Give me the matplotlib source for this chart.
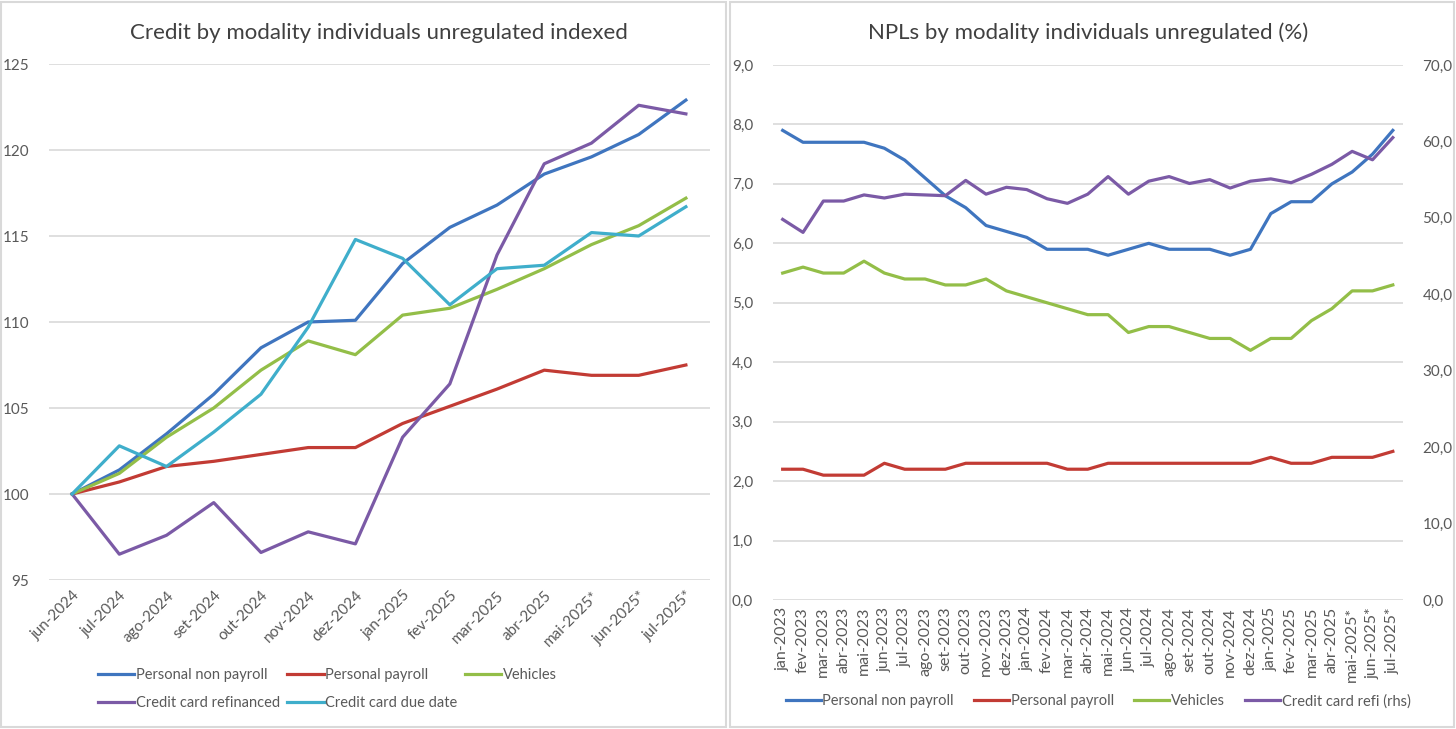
import matplotlib.pyplot as plt
from matplotlib.patches import Rectangle

plt.rcParams['font.family'] = ['Lato', 'DejaVu Sans']

# left chart: credit indexed
months_left = ['jun-2024', 'jul-2024', 'ago-2024', 'set-2024', 'out-2024', 'nov-2024', 'dez-2024',
               'jan-2025', 'fev-2025', 'mar-2025', 'abr-2025', 'mai-2025*', 'jun-2025*', 'jul-2025*']
personal_non_payroll = [100, 101.4, 103.5, 105.8, 108.5, 110.0, 110.1, 113.4, 115.5, 116.8, 118.6, 119.6, 120.9, 122.9]
personal_payroll = [100, 100.7, 101.6, 101.9, 102.3, 102.7, 102.7, 104.1, 105.1, 106.1, 107.2, 106.9, 106.9, 107.5]
vehicles = [100, 101.2, 103.3, 105.0, 107.2, 108.9, 108.1, 110.4, 110.8, 111.9, 113.1, 114.5, 115.6, 117.2]
cc_refinanced = [100, 96.5, 97.6, 99.5, 96.6, 97.8, 97.1, 103.3, 106.4, 113.9, 119.2, 120.4, 122.6, 122.1]
cc_due_date = [100, 102.8, 101.6, 103.6, 105.8, 109.7, 114.8, 113.7, 111.0, 113.1, 113.3, 115.2, 115.0, 116.7]

# right chart: NPLs
months_right = ['jan-2023', 'fev-2023', 'mar-2023', 'abr-2023', 'mai-2023', 'jun-2023', 'jul-2023', 'ago-2023',
                'set-2023', 'out-2023', 'nov-2023', 'dez-2023', 'jan-2024', 'fev-2024', 'mar-2024', 'abr-2024',
                'mai-2024', 'jun-2024', 'jul-2024', 'ago-2024', 'set-2024', 'out-2024', 'nov-2024', 'dez-2024',
                'jan-2025', 'fev-2025', 'mar-2025', 'abr-2025', 'mai-2025*', 'jun-2025*', 'jul-2025*']
npl_non_payroll = [7.9, 7.7, 7.7, 7.7, 7.7, 7.6, 7.4, 7.1, 6.8, 6.6, 6.3, 6.2, 6.1, 5.9, 5.9, 5.9,
                   5.8, 5.9, 6.0, 5.9, 5.9, 5.9, 5.8, 5.9, 6.5, 6.7, 6.7, 7.0, 7.2, 7.5, 7.9]
npl_payroll = [2.2, 2.2, 2.1, 2.1, 2.1, 2.3, 2.2, 2.2, 2.2, 2.3, 2.3, 2.3, 2.3, 2.3, 2.2, 2.2,
               2.3, 2.3, 2.3, 2.3, 2.3, 2.3, 2.3, 2.3, 2.4, 2.3, 2.3, 2.4, 2.4, 2.4, 2.5]
npl_vehicles = [5.5, 5.6, 5.5, 5.5, 5.7, 5.5, 5.4, 5.4, 5.3, 5.3, 5.4, 5.2, 5.1, 5.0, 4.9, 4.8,
                4.8, 4.5, 4.6, 4.6, 4.5, 4.4, 4.4, 4.2, 4.4, 4.4, 4.7, 4.9, 5.2, 5.2, 5.3]
npl_cc_refi = [49.8, 48.1, 52.2, 52.2, 53.0, 52.6, 53.1, 53.0, 52.9, 54.9, 53.1, 54.0, 53.7, 52.5, 51.9, 53.1,
               55.4, 53.1, 54.8, 55.4, 54.5, 55.0, 53.9, 54.8, 55.1, 54.6, 55.7, 57.0, 58.7, 57.6, 60.5]

BLUE = '#3F75BF'
RED = '#C23B34'
GREEN = '#93BE48'
PURPLE = '#7B5AA6'
CYAN = '#3FAECB'
GRID = '#D9D9D9'
TXT = '#595959'
LW = 2.3

W, H = 1456, 729
fig = plt.figure(figsize=(W / 100, H / 100), dpi=100)


def box(x0, y0, x1, y1):
    # pixel coords (top-left origin) -> figure fraction
    return [x0 / W, 1 - y1 / H, (x1 - x0) / W, (y1 - y0) / H]


# panel borders
for x0, x1 in [(1, 726), (730, 1454)]:
    fig.patches.append(Rectangle((x0 / W, 2 / H), (x1 - x0) / W, (H - 4) / H, transform=fig.transFigure,
                                 fill=False, edgecolor=GRID, linewidth=1.5))


def style(ax):
    for s in ax.spines.values():
        s.set_visible(False)
    ax.yaxis.grid(True, color=GRID, linewidth=1.2)
    ax.set_axisbelow(True)
    ax.tick_params(length=0, colors=TXT, labelsize=11)


# ---- left chart
ax1 = fig.add_axes(box(48.5, 64, 709.5, 580))
style(ax1)
xl = range(len(months_left))
ax1.plot(xl, personal_non_payroll, color=BLUE, lw=LW, label='Personal non payroll')
ax1.plot(xl, personal_payroll, color=RED, lw=LW, label='Personal payroll')
ax1.plot(xl, vehicles, color=GREEN, lw=LW, label='Vehicles')
ax1.plot(xl, cc_refinanced, color=PURPLE, lw=LW, label='Credit card refinanced')
ax1.plot(xl, cc_due_date, color=CYAN, lw=LW, label='Credit card due date')
ax1.set_xlim(-0.5, len(months_left) - 0.5)
ax1.set_ylim(95, 125)
ax1.set_yticks(range(95, 126, 5))
ax1.set_xticks(list(xl))
ax1.set_xticklabels(months_left, rotation=45, ha='right', rotation_mode='anchor')
ax1.tick_params(axis='y', pad=14)
ax1.tick_params(axis='x', pad=6)
ax1.set_title('Credit by modality individuals unregulated indexed', fontsize=16, color='#404040', pad=18)
h, l = ax1.get_legend_handles_labels()
order = [0, 3, 1, 4, 2]
ax1.legend([h[i] for i in order], [l[i] for i in order], ncol=3, loc='upper left',
           bbox_to_anchor=((98 - 48.5) / 661, -(668 - 580) / 516), borderaxespad=0, borderpad=0,
           frameon=False, fontsize=10.5, labelcolor=TXT, handlelength=2.5, handletextpad=0.1,
           columnspacing=0.5, labelspacing=0.95)

# ---- right chart
ax2 = fig.add_axes(box(772.5, 65, 1403, 600))
style(ax2)
xr = range(len(months_right))
l1, = ax2.plot(xr, npl_non_payroll, color=BLUE, lw=LW, label='Personal non payroll')
l2, = ax2.plot(xr, npl_payroll, color=RED, lw=LW, label='Personal payroll')
l3, = ax2.plot(xr, npl_vehicles, color=GREEN, lw=LW, label='Vehicles')
ax2.set_xlim(-0.5, len(months_right) - 0.5)
ax2.set_ylim(0, 9)
ax2.set_yticks(range(0, 10))
ax2.set_yticklabels([f'{v},0' for v in range(0, 10)])
ax2.set_xticks(list(xr))
ax2.set_xticklabels(months_right, rotation=90, fontsize=11.5)
ax2.tick_params(axis='y', pad=14)
ax2.tick_params(axis='x', pad=5)

ax3 = ax2.twinx()
for s in ax3.spines.values():
    s.set_visible(False)
l4, = ax3.plot(xr, npl_cc_refi, color=PURPLE, lw=LW, label='Credit card refi (rhs)')
ax3.set_ylim(0, 70)
ax3.set_yticks(range(0, 71, 10))
ax3.set_yticklabels([f'{v},0' for v in range(0, 71, 10)])
ax3.tick_params(length=0, colors=TXT, labelsize=11, pad=14)
ax3.set_title('NPLs by modality individuals unregulated (%)', fontsize=16, color='#404040', pad=19)
ax3.legend([l1, l2, l3, l4], [x.get_label() for x in [l1, l2, l3, l4]], ncol=4, loc='upper left',
           bbox_to_anchor=((786 - 772.5) / 630.5, -(694 - 600) / 535), borderaxespad=0, borderpad=0,
           frameon=False, fontsize=10.5, labelcolor=TXT,
           handlelength=2.4, handletextpad=0.1, columnspacing=1.4)

fig.savefig('out.png', dpi=100)
